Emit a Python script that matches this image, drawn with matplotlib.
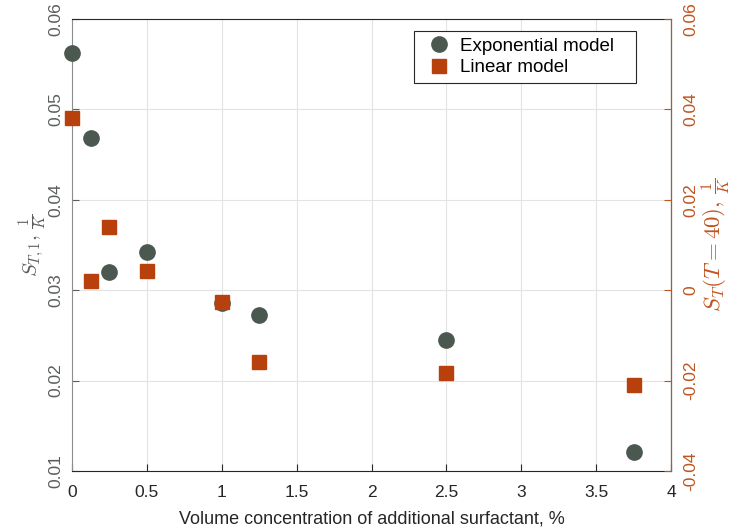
import matplotlib.pyplot as plt

plt.rcParams['font.family'] = ['Liberation Sans', 'DejaVu Sans']
plt.rcParams['mathtext.fontset'] = 'cm'

conc = [0.0, 0.125, 0.25, 0.5, 1.0, 1.25, 2.5, 3.75]
exp_model = [0.0562, 0.0468, 0.0320, 0.0342, 0.0286, 0.0273, 0.0245, 0.0121]
lin_model = [0.0381, 0.0020, 0.0140, 0.0042, -0.0026, -0.0159, -0.0183, -0.0210]

gray = '#4b5850'
orange = '#b8400c'
right_col = '#c0541f'

fig = plt.figure(figsize=(7.33, 5.31), dpi=100)
ax = fig.add_axes([72 / 733, 1 - 471 / 531, (671 - 72) / 733, (471 - 19) / 531])
ax2 = ax.twinx()

p1, = ax.plot(conc, exp_model, 'o', color=gray, markersize=11, label='Exponential model',
              clip_on=False, zorder=3)
p2, = ax2.plot(conc, lin_model, 's', color=orange, markersize=9.5, label='Linear model',
               clip_on=False, zorder=3)

ax.set_xlim(0, 4)
ax.set_ylim(0.01, 0.06)
ax2.set_ylim(-0.04, 0.06)
ax.set_xticks([0, 0.5, 1, 1.5, 2, 2.5, 3, 3.5, 4])
ax.set_xticklabels(['0', '0.5', '1', '1.5', '2', '2.5', '3', '3.5', '4'])
ax.set_yticks([0.01, 0.02, 0.03, 0.04, 0.05, 0.06])
ax.set_yticklabels(['0.01', '0.02', '0.03', '0.04', '0.05', '0.06'])
ax2.set_yticks([-0.04, -0.02, 0, 0.02, 0.04, 0.06])
ax2.set_yticklabels(['-0.04', '-0.02', '0', '0.02', '0.04', '0.06'])

ax.grid(True, color='#e3e3e3', linewidth=0.8)
ax.set_axisbelow(True)

ax.tick_params(axis='x', direction='in', labelsize=12.5, colors='#262626', length=5, pad=10)
ax.tick_params(axis='y', direction='in', labelsize=12.5, colors='#5a5f5c', length=5,
               labelrotation=90, pad=6)
ax2.tick_params(axis='y', direction='in', labelsize=12.5, colors=right_col, length=5,
                labelrotation=90, pad=9)
for lab in ax.get_yticklabels():
    lab.set_va('center')
for lab in ax2.get_yticklabels():
    lab.set_va('center')

ax.spines['left'].set_color('#8a8f8c')
ax.spines['bottom'].set_color('#262626')
ax.spines['top'].set_color('#262626')
ax2.spines['right'].set_color(right_col)
ax2.spines['left'].set_visible(False)
ax2.spines['top'].set_visible(False)
ax2.spines['bottom'].set_visible(False)

ax.set_xlabel('Volume concentration of additional surfactant, %', fontsize=13, color='#262626',
              labelpad=8)
ax.set_ylabel(r'$S_{T,1},\,\frac{1}{K}$', fontsize=15, color='#5a5f5c', labelpad=0)
ax2.set_ylabel(r'$S_T(T=40),\,\frac{1}{K}$', fontsize=16.5, color=right_col, labelpad=1)

# matlab-style legend, a bit of extra room on the right
leg = ax.legend([p1, p2], ['Exponential model   ', 'Linear model'], loc='upper right',
                bbox_to_anchor=(636 / 733, 1 - 31 / 531), bbox_transform=fig.transFigure,
                borderaxespad=0, fontsize=13.5, fancybox=False, edgecolor='#262626',
                framealpha=1, handletextpad=0.1, borderpad=0.35, labelspacing=0.25,
                handlelength=2.0)
leg.get_frame().set_linewidth(0.8)
leg.set_zorder(5)

fig.savefig('out.png', dpi=100)
